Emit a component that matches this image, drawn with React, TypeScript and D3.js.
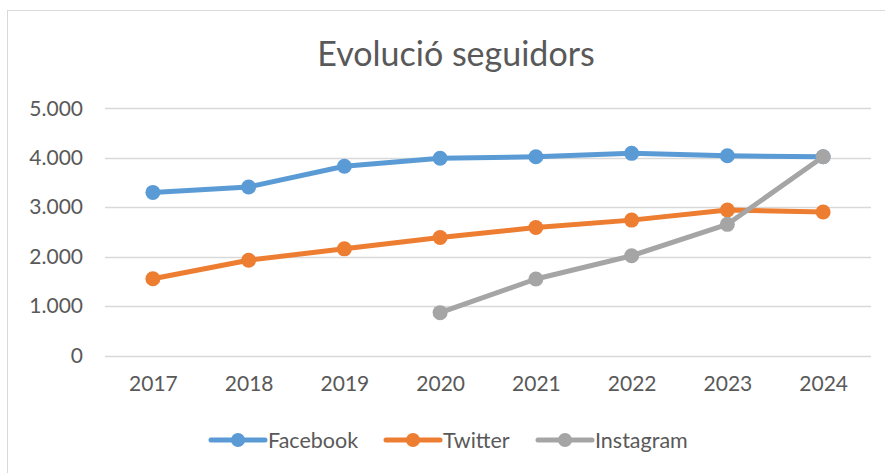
import * as d3 from 'd3';
import React, { useEffect, useRef } from 'react';

// chart data
const years = ['2017', '2018', '2019', '2020', '2021', '2022', '2023', '2024'];
const facebook = [3300, 3410, 3830, 3990, 4020, 4090, 4040, 4020];
const twitter = [1555, 1930, 2160, 2390, 2590, 2740, 2945, 2905];
const instagram: (number | null)[] = [null, null, null, 870, 1550, 2020, 2655, 4020];
const yTicks = [0, 1000, 2000, 3000, 4000, 5000];
const seriesNames = ['Facebook', 'Twitter', 'Instagram'];
const seriesColors = ['#5B9BD5', '#ED7D31', '#A5A5A5'];

const W = 885, H = 473;
const FONT = 'Lato, "Liberation Sans", sans-serif';

function App() {
  const ref = useRef<SVGSVGElement>(null);

  useEffect(() => {
    const svg = d3.select(ref.current);
    svg.selectAll('*').remove();

    // chart area box
    svg.append('rect')
      .attr('x', 7.5).attr('y', 10.5)
      .attr('width', W).attr('height', H)
      .attr('fill', '#fff').attr('stroke', '#D9D9D9');

    svg.append('text')
      .attr('x', 456).attr('y', 66)
      .attr('text-anchor', 'middle')
      .attr('font-family', FONT).attr('font-size', 34)
      .attr('fill', '#595959')
      .text('Evolució seguidors');

    const x = d3.scalePoint<string>().domain(years).range([105, 871]).padding(0.5);
    const y = d3.scaleLinear().domain([0, 5000]).range([355.7, 108.3]);
    const fmt = (v: number) => d3.format(',')(v).replace(/,/g, '.');

    // gridlines
    svg.append('g').selectAll('line')
      .data(yTicks).enter().append('line')
      .attr('x1', 105).attr('x2', 871)
      .attr('y1', d => Math.round(y(d)) + 0.5).attr('y2', d => Math.round(y(d)) + 0.5)
      .attr('stroke', '#D9D9D9').attr('stroke-width', 1.3);

    // y axis labels
    const yAxis = svg.append('g')
      .attr('transform', 'translate(83,0)')
      .call(d3.axisLeft(y).tickValues(yTicks).tickSize(0).tickPadding(0).tickFormat(d => fmt(d as number)));
    yAxis.select('.domain').remove();
    yAxis.selectAll('text')
      .attr('font-family', FONT).attr('font-size', 21).attr('fill', '#595959');

    // x axis labels
    const xAxis = svg.append('g')
      .attr('transform', 'translate(0,376)')
      .call(d3.axisBottom(x).tickSize(0).tickPadding(0));
    xAxis.select('.domain').remove();
    xAxis.selectAll('text')
      .attr('font-family', FONT).attr('font-size', 21).attr('fill', '#595959');

    const allSeries = [facebook, twitter, instagram];
    const line = d3.line<number | null>()
      .defined(d => d != null)
      .x((d, i) => x(years[i]) as number)
      .y(d => y(d as number));

    allSeries.forEach((data, s) => {
      const g = svg.append('g');
      g.append('path')
        .datum(data)
        .attr('fill', 'none')
        .attr('stroke', seriesColors[s])
        .attr('stroke-width', 5)
        .attr('stroke-linejoin', 'round')
        .attr('stroke-linecap', 'round')
        .attr('d', line);
      g.selectAll('circle')
        .data(data.map((v, i) => ({ v, i })).filter(d => d.v != null))
        .enter().append('circle')
        .attr('cx', d => x(years[d.i]) as number)
        .attr('cy', d => y(d.v as number))
        .attr('r', 7.5)
        .attr('fill', seriesColors[s]);
    });

    // legend
    const legendX = [211, 386, 538];
    const legend = svg.append('g');
    seriesNames.forEach((name, s) => {
      const lg = legend.append('g').attr('transform', 'translate(' + legendX[s] + ',440)');
      lg.append('line')
        .attr('x1', 0).attr('x2', 54).attr('y1', 0).attr('y2', 0)
        .attr('stroke', seriesColors[s]).attr('stroke-width', 5).attr('stroke-linecap', 'round');
      lg.append('circle').attr('cx', 27).attr('cy', 0).attr('r', 7).attr('fill', seriesColors[s]);
      lg.append('text')
        .attr('x', 57).attr('y', 0).attr('dy', '0.35em')
        .attr('font-family', FONT).attr('font-size', 21.5).attr('fill', '#595959')
        .text(name);
    });
  }, []);

  return (
    <svg ref={ref} width={W} height={H}
      style={{ position: 'absolute', left: 0, top: 0, background: '#fff' }} />
  );
}

export default App;
